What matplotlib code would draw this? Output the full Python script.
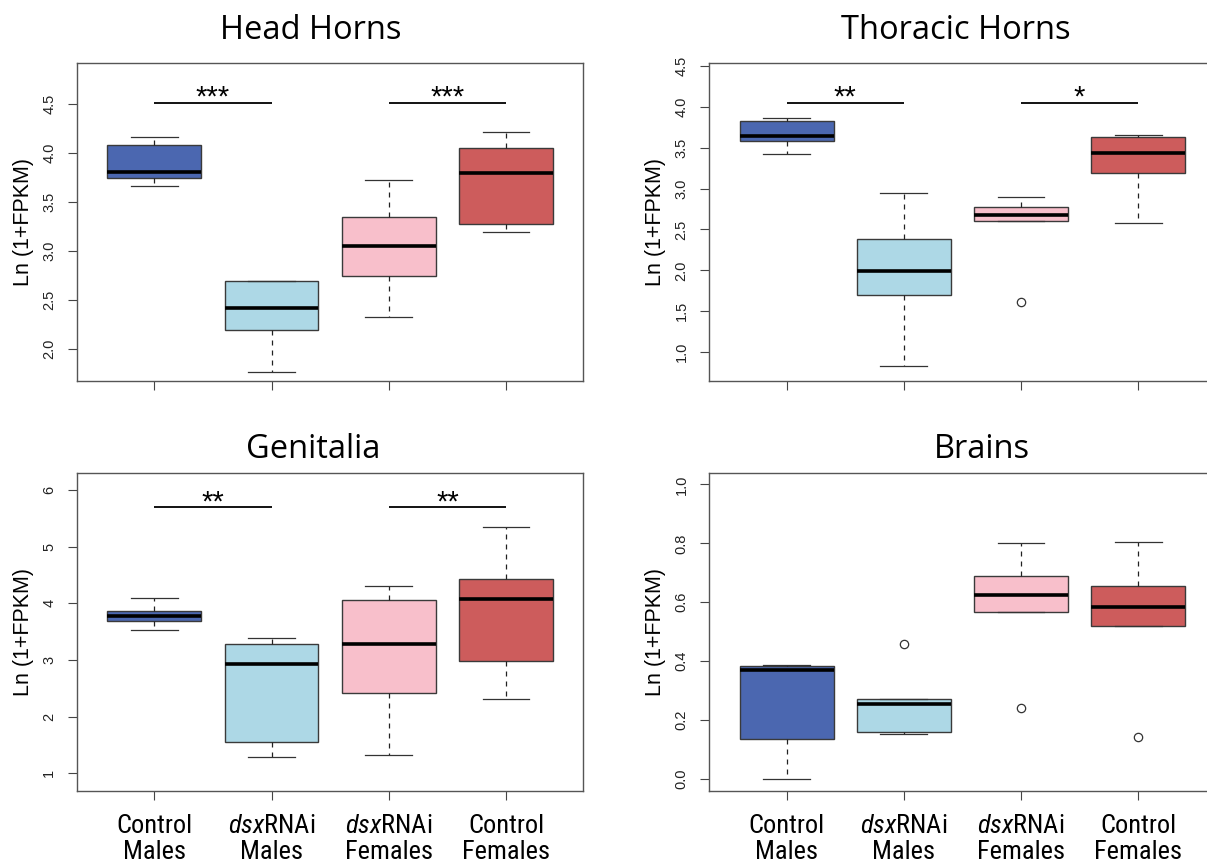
import matplotlib
matplotlib.use("Agg")
import matplotlib.pyplot as plt
from matplotlib import font_manager

W, H, DPI = 1207, 865, 100

# Narrow face for the group labels: first one installed wins
_installed = {f.name for f in font_manager.fontManager.ttflist}
_narrow_pref = ["Liberation Sans Narrow", "Roboto Condensed", "Open Sans Condensed",
                "DejaVu Sans Condensed", "Roboto"]
LABEL_FONT = next((f for f in _narrow_pref if f in _installed), "DejaVu Sans")
LABEL_SIZE = 19 if LABEL_FONT != "Roboto" else 17.5

plt.rcParams["mathtext.fontset"] = "custom"
plt.rcParams["mathtext.rm"] = LABEL_FONT
plt.rcParams["mathtext.it"] = LABEL_FONT + ":italic"

group_labels = ["Control\nMales", r"$\mathit{dsx}$RNAi" + "\nMales",
                r"$\mathit{dsx}$RNAi" + "\nFemales", "Control\nFemales"]
fill_colors = ["#4B67B0", "#ADD8E6", "#F8BFCB", "#CD5C5C"]

# Head horns: whisker ends, quartiles and medians
head_whislo = [3.667, 1.765, 2.327, 3.200]
head_q1 = [3.745, 2.197, 2.751, 3.282]
head_med = [3.809, 2.418, 3.051, 3.799]
head_q3 = [4.088, 2.697, 3.350, 4.057]
head_whishi = [4.169, 2.700, 3.728, 4.217]
head_fliers = [[], [], [], []]

# Thoracic horns
thor_whislo = [3.418, 0.833, 2.604, 2.576]
thor_q1 = [3.577, 1.697, 2.604, 3.194]
thor_med = [3.642, 1.993, 2.681, 3.430]
thor_q3 = [3.829, 2.388, 2.778, 3.626]
thor_whishi = [3.858, 2.949, 2.897, 3.654]
thor_fliers = [[], [], [1.618], []]

# Genitalia
gen_whislo = [3.535, 1.294, 1.324, 2.312]
gen_q1 = [3.694, 1.553, 2.418, 2.982]
gen_med = [3.777, 2.930, 3.282, 4.082]
gen_q3 = [3.870, 3.277, 4.064, 4.435]
gen_whishi = [4.089, 3.394, 4.300, 5.342]
gen_fliers = [[], [], [], []]

# Brains
brain_whislo = [0.000, 0.153, 0.567, 0.521]
brain_q1 = [0.137, 0.161, 0.567, 0.521]
brain_med = [0.369, 0.253, 0.623, 0.583]
brain_q3 = [0.383, 0.271, 0.689, 0.655]
brain_whishi = [0.388, 0.271, 0.800, 0.803]
brain_fliers = [[], [0.457], [0.2425], [0.1415]]

# Significance brackets: (from group, to group, height, stars)
head_sig = [(1, 2, 4.513, "***"), (3, 4, 4.513, "***")]
thor_sig = [(1, 2, 4.048, "**"), (3, 4, 4.048, "*")]
gen_sig = [(1, 2, 5.695, "**"), (3, 4, 5.695, "**")]
brain_sig = []

head_yticks = [2.0, 2.5, 3.0, 3.5, 4.0, 4.5]
thor_yticks = [1.0, 1.5, 2.0, 2.5, 3.0, 3.5, 4.0, 4.5]
gen_yticks = [1, 2, 3, 4, 5, 6]
brain_yticks = [0.0, 0.2, 0.4, 0.6, 0.8, 1.0]

panels = [
    dict(title="Head Horns", title_xy=(311, 39), rect=(77, 63),
         ylim=(1.676, 4.921), yticks=head_yticks, fmt="{:.1f}",
         stats=(head_whislo, head_q1, head_med, head_q3, head_whishi, head_fliers),
         sig=head_sig, xlabels=False),
    dict(title="Thoracic Horns", title_xy=(956, 39), rect=(709.3, 62.7),
         ylim=(0.653, 4.537), yticks=thor_yticks, fmt="{:.1f}",
         stats=(thor_whislo, thor_q1, thor_med, thor_q3, thor_whishi, thor_fliers),
         sig=thor_sig, xlabels=False),
    dict(title="Genitalia", title_xy=(313, 458), rect=(77, 472.7),
         ylim=(0.693, 6.305), yticks=gen_yticks, fmt="{:d}",
         stats=(gen_whislo, gen_q1, gen_med, gen_q3, gen_whishi, gen_fliers),
         sig=gen_sig, xlabels=True),
    dict(title="Brains", title_xy=(982, 458), rect=(709.3, 472.7),
         ylim=(-0.04, 1.04), yticks=brain_yticks, fmt="{:.1f}",
         stats=(brain_whislo, brain_q1, brain_med, brain_q3, brain_whishi, brain_fliers),
         sig=brain_sig, xlabels=True),
]

AX_W, AX_H = 506.3, 318.0
EDGE = "#3a3a3a"

fig = plt.figure(figsize=(W / DPI, H / DPI), dpi=DPI)

for p in panels:
    x0, y0 = p["rect"]
    ax = fig.add_axes([x0 / W, 1 - (y0 + AX_H) / H, AX_W / W, AX_H / H])
    lo, q1, med, q3, hi, fl = p["stats"]
    stats = [dict(whislo=lo[i], q1=q1[i], med=med[i], q3=q3[i], whishi=hi[i],
                  fliers=fl[i]) for i in range(4)]
    bp = ax.bxp(stats, positions=[1, 2, 3, 4], widths=0.8, capwidths=0.4,
                patch_artist=True, showfliers=True,
                boxprops=dict(edgecolor=EDGE, linewidth=1.0),
                medianprops=dict(color="black", linewidth=2.6, solid_capstyle="butt"),
                whiskerprops=dict(color="#222222", linewidth=0.9, linestyle=(0, (4, 4))),
                capprops=dict(color="#333333", linewidth=0.9),
                flierprops=dict(marker="o", markerfacecolor="none",
                                markeredgecolor="#333333", markersize=6,
                                markeredgewidth=0.9, linestyle="none"))
    for patch, c in zip(bp["boxes"], fill_colors):
        patch.set_facecolor(c)

    for a, b, y, stars in p["sig"]:
        ax.plot([a, b], [y, y], color="black", linewidth=1.3, solid_capstyle="butt")
        ax.annotate(stars, xy=((a + b) / 2, y), xytext=(0, -2.2),
                    textcoords="offset points", ha="center", va="baseline",
                    fontsize=21, family="Liberation Sans", color="black")

    ax.set_xlim(0.34, 4.66)
    ax.set_ylim(*p["ylim"])
    ax.set_yticks(p["yticks"])
    ax.set_yticklabels([p["fmt"].format(v) for v in p["yticks"]],
                       rotation=90, va="center", fontsize=10.5,
                       family="Liberation Sans", color="#222222")
    ax.set_xticks([1, 2, 3, 4])
    if p["xlabels"]:
        ax.set_xticklabels(group_labels, fontsize=LABEL_SIZE, linespacing=1.12,
                           family=LABEL_FONT)
    else:
        ax.set_xticklabels([])
    ax.tick_params(axis="y", direction="out", length=6.5, width=0.8,
                   color="#444444", pad=8.5)
    ax.tick_params(axis="x", direction="out", length=6.5, width=0.8,
                   color="#444444", pad=10)
    for s in ax.spines.values():
        s.set_color("#555555")
        s.set_linewidth(1.0)

    tx, ty = p["title_xy"]
    fig.text(tx / W, 1 - ty / H, p["title"], ha="center", va="baseline",
             fontsize=23.5, family="Open Sans", color="black")
    fig.text((x0 - 53.5) / W, 1 - (y0 + AX_H / 2) / H, "Ln (1+FPKM)",
             rotation=90, ha="center", va="center", fontsize=15.5,
             family="Liberation Sans", color="black")

fig.savefig("out.png", dpi=DPI, facecolor="white")
